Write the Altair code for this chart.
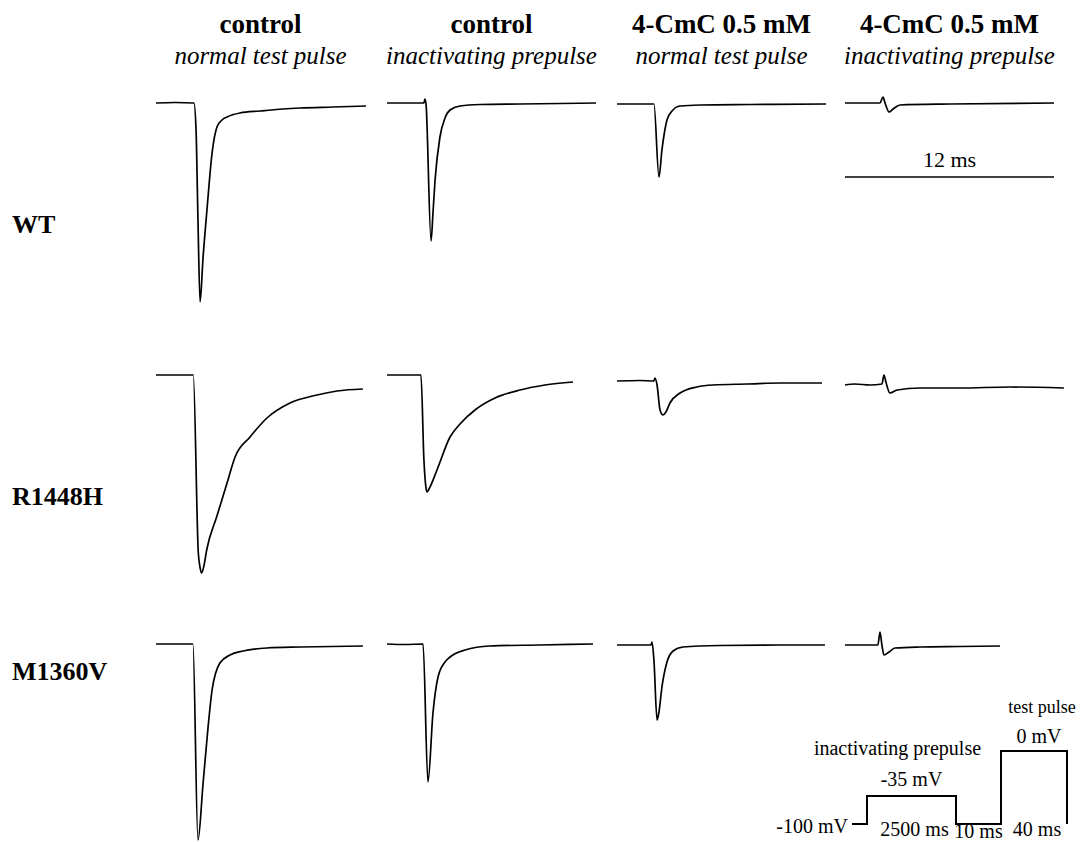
import altair as alt
import pandas as pd

# ---------------- annotations ----------------
conditions = ["control", "control", "4-CmC 0.5 mM", "4-CmC 0.5 mM"]
pulse_types = ["normal test pulse", "inactivating prepulse", "normal test pulse", "inactivating prepulse"]
genotypes = ["WT", "R1448H", "M1360V"]
scale_bar_ms = 12
scale_bar_label = "12 ms"

# ---------------- current traces: time (ms), current (nA) ----------------
wt_ctrl_t = [0, 1.09, 2.18, 2.30, 2.41, 2.53, 2.70, 2.93, 3.22, 3.50, 3.79, 4.08, 4.82, 5.97, 7.29, 8.27, 10.16, 12.06]
wt_ctrl_i = [0, 0.01, 0, -0.54, -2.34, -3.98, -3.10, -2.12, -1.00, -0.48, -0.34, -0.28, -0.20, -0.16, -0.12, -0.10, -0.08, -0.06]

wt_pre_t = [0, 1.03, 2.12, 2.18, 2.24, 2.53, 2.64, 2.76, 3.04, 3.33, 3.62, 4.19, 5.34, 7.64, 9.93, 12.0]
wt_pre_i = [0, 0, 0, 0.08, -0.02, -2.76, -2.20, -1.54, -0.68, -0.30, -0.14, -0.06, -0.03, -0.02, -0.01, 0]

wt_cmc_t = [0, 1.32, 2.12, 2.41, 2.58, 2.70, 2.87, 3.16, 3.62, 4.77, 7.64, 12.0]
wt_cmc_i = [-0.02, -0.02, -0.02, -1.48, -0.94, -0.64, -0.34, -0.16, -0.06, -0.04, -0.03, -0.02]

wt_cmcpre_t = [0, 2.01, 2.18, 2.30, 2.53, 2.76, 3.16, 6.03, 12.0]
wt_cmcpre_i = [0, 0, 0.12, 0, -0.18, -0.12, -0.04, -0.02, 0]

r1448h_ctrl_t = [0, 1.09, 2.14, 2.43, 2.53, 2.62, 2.76, 2.91, 3.49, 4.08, 4.54, 5.40, 6.37, 7.69, 9.24, 10.39, 11.88]
r1448h_ctrl_i = [0, 0, 0, -3.56, -3.85, -3.96, -3.80, -3.50, -2.83, -2.16, -1.64, -1.24, -0.86, -0.56, -0.40, -0.32, -0.28]

r1448h_pre_t = [0, 0.75, 1.95, 2.12, 2.24, 2.30, 2.41, 2.87, 3.62, 4.19, 5.05, 6.20, 7.64, 9.07, 10.68]
r1448h_pre_i = [0, 0, 0, -1.70, -2.26, -2.34, -2.28, -1.90, -1.24, -0.98, -0.70, -0.46, -0.30, -0.20, -0.14]

r1448h_cmc_t = [0, 1.32, 2.12, 2.18, 2.30, 2.47, 2.64, 2.81, 3.04, 3.62, 4.59, 5.51, 7.46, 9.36, 11.77]
r1448h_cmc_i = [-0.12, -0.11, -0.12, -0.06, -0.20, -0.70, -0.80, -0.74, -0.56, -0.36, -0.24, -0.20, -0.18, -0.16, -0.16]

r1448h_cmcpre_t = [0, 0.57, 1.44, 2.12, 2.24, 2.35, 2.58, 2.99, 4.31, 6.60, 9.47, 12.57]
r1448h_cmcpre_i = [-0.20, -0.18, -0.20, -0.18, 0.0, -0.14, -0.36, -0.30, -0.26, -0.26, -0.24, -0.26]

m1360v_ctrl_t = [0, 1.09, 2.12, 2.41, 2.70, 2.99, 3.22, 3.67, 4.25, 5.00, 6.37, 8.27, 11.88]
m1360v_ctrl_i = [0, 0, 0, -3.92, -2.80, -1.66, -0.92, -0.38, -0.22, -0.14, -0.08, -0.06, -0.04]

m1360v_pre_t = [0, 1.03, 2.07, 2.35, 2.64, 2.93, 3.33, 3.62, 4.48, 5.91, 8.78, 11.83]
m1360v_pre_i = [0, -0.01, 0, -2.76, -1.38, -0.66, -0.36, -0.26, -0.12, -0.04, -0.02, 0]

m1360v_cmc_t = [0, 1.32, 1.95, 2.01, 2.12, 2.30, 2.41, 2.58, 2.87, 3.22, 3.79, 5.91, 9.36, 11.94]
m1360v_cmc_i = [-0.02, -0.02, -0.02, 0.04, -0.32, -1.52, -1.36, -0.86, -0.36, -0.14, -0.06, -0.03, -0.02, -0.02]

m1360v_cmcpre_t = [0, 1.15, 1.89, 2.01, 2.12, 2.24, 2.53, 2.87, 4.31, 6.60, 8.90]
m1360v_cmcpre_i = [-0.02, -0.02, -0.02, 0.24, -0.02, -0.22, -0.16, -0.08, -0.06, -0.05, -0.04]

# ---------------- voltage protocol (schematic) ----------------
protocol_t = [-200, 0, 0, 2500, 2500, 2510, 2510, 2550, 2550]
protocol_v = [-100, -100, -35, -35, -100, -100, 0, 0, -100]

# ---------------- layout (not data) ----------------
W, H = 1070, 834
PX_PER_MS = 209 / 12
PX_PER_NA = 50
col_offset_ms = [0, 13.263, 26.469, 39.559]
row_offset_na = [0, -5.44, -10.82]
x_left = -(156 - 8) / PX_PER_MS
x_right = x_left + W / PX_PER_MS
y_top = (103 - 8) / PX_PER_NA
y_bot = y_top - H / PX_PER_NA

xs = alt.Scale(domain=[x_left, x_right], nice=False, zero=False)
ys = alt.Scale(domain=[y_bot, y_top], nice=False, zero=False)

FONT = "Liberation Serif"

traces = [
    (0, 0, wt_ctrl_t, wt_ctrl_i), (0, 1, wt_pre_t, wt_pre_i),
    (0, 2, wt_cmc_t, wt_cmc_i), (0, 3, wt_cmcpre_t, wt_cmcpre_i),
    (1, 0, r1448h_ctrl_t, r1448h_ctrl_i), (1, 1, r1448h_pre_t, r1448h_pre_i),
    (1, 2, r1448h_cmc_t, r1448h_cmc_i), (1, 3, r1448h_cmcpre_t, r1448h_cmcpre_i),
    (2, 0, m1360v_ctrl_t, m1360v_ctrl_i), (2, 1, m1360v_pre_t, m1360v_pre_i),
    (2, 2, m1360v_cmc_t, m1360v_cmc_i), (2, 3, m1360v_cmcpre_t, m1360v_cmcpre_i),
]
recs = []
for r, c, ts, cur in traces:
    for k, (t, i) in enumerate(zip(ts, cur)):
        recs.append({"trace": f"{genotypes[r]} {c}", "k": k,
                     "X": t + col_offset_ms[c], "Y": i + row_offset_na[r]})
df = pd.DataFrame(recs)

X = alt.X("X:Q", scale=xs, axis=None)
Y = alt.Y("Y:Q", scale=ys, axis=None)

trace_layer = alt.Chart(df).mark_line(
    color="black", strokeWidth=1.7, interpolate="monotone"
).encode(x=X, y=Y, detail="trace:N", order="k:Q")

sb = pd.DataFrame({"X": [col_offset_ms[3]], "X2": [col_offset_ms[3] + scale_bar_ms], "Y": [-1.48]})
sb_rule = alt.Chart(sb).mark_rule(color="black", strokeWidth=1.4).encode(x=X, x2="X2:Q", y=Y)
sb_txt = alt.Chart(pd.DataFrame({"X": [col_offset_ms[3] + scale_bar_ms / 2], "Y": [-1.28], "s": [scale_bar_label]})).mark_text(
    font=FONT, fontSize=22, baseline="alphabetic", align="center", color="black"
).encode(x=X, y=Y, text="s:N")

hdr = pd.DataFrame({"X": [o + 6 for o in col_offset_ms], "cond": conditions, "pulse": pulse_types})
hdr1 = alt.Chart(hdr).mark_text(font=FONT, fontSize=27, fontWeight="bold", baseline="alphabetic",
                                align="center", color="black").encode(x=X, y=alt.value(25), text="cond:N")
hdr2 = alt.Chart(hdr).mark_text(font=FONT, fontSize=25, fontStyle="italic", baseline="alphabetic",
                                align="center", color="black").encode(x=X, y=alt.value(56), text="pulse:N")

lab_off = [-2.44, -2.44, -0.56]
rl = pd.DataFrame({"g": genotypes, "Y": [row_offset_na[i] + lab_off[i] for i in range(3)]})
row_lab = alt.Chart(rl).mark_text(font=FONT, fontSize=26, fontWeight="bold", baseline="middle",
                                  align="left", color="black").encode(x=alt.value(4), y=Y, text="g:N")

trace_group = alt.layer(trace_layer, sb_rule, sb_txt, hdr1, hdr2, row_lab)

# protocol inset with its own (schematic, piecewise) scales
px = alt.Scale(domain=[-200, 0, 2500, 2510, 2550], range=[844, 859, 948, 993, 1059], nice=False, zero=False)
py = alt.Scale(domain=[-100, -35, 0], range=[816, 788, 743], nice=False, zero=False)
PX = alt.X("pt:Q", scale=px, axis=None)
PY = alt.Y("pv:Q", scale=py, axis=None)

pdf = pd.DataFrame({"pt": protocol_t, "pv": protocol_v, "k": list(range(len(protocol_t)))})
proto_line = alt.Chart(pdf).mark_line(color="black", strokeWidth=2).encode(x=PX, y=PY, order="k:Q")

proto_labels = [
    ("-100 mV", -200, -100, "right", -4, 9, 20),
    ("2500 ms", 1250, -100, "center", 3, 12, 20),
    ("10 ms", 2505, -100, "center", 0, 14, 20),
    ("40 ms", 2530, -100, "center", 3, 12, 20),
    ("-35 mV", 1250, -35, "center", 0, -10, 20),
    ("inactivating prepulse", 1250, -35, "center", -14, -41, 20),
    ("0 mV", 2530, 0, "center", 5, -8, 20),
    ("test pulse", 2530, 0, "center", 8, -38, 18),
]
plabs = []
for s, t, v, al, dx, dy, fs in proto_labels:
    plabs.append(
        alt.Chart(pd.DataFrame({"pt": [t], "pv": [v], "s": [s]})).mark_text(
            font=FONT, fontSize=fs, align=al, baseline="alphabetic", dx=dx, dy=dy, color="black"
        ).encode(x=PX, y=PY, text="s:N")
    )
proto_group = alt.layer(proto_line, *plabs)

chart = alt.layer(trace_group, proto_group).resolve_scale(
    x="independent", y="independent"
).properties(
    width=W, height=H,
    autosize=alt.AutoSizeParams(type="none"),
    padding={"left": 0, "top": 0, "right": 0, "bottom": 0},
    background="white",
).configure_view(stroke=None)

chart.save("out.html", embed_options={"renderer": "svg", "actions": False})
